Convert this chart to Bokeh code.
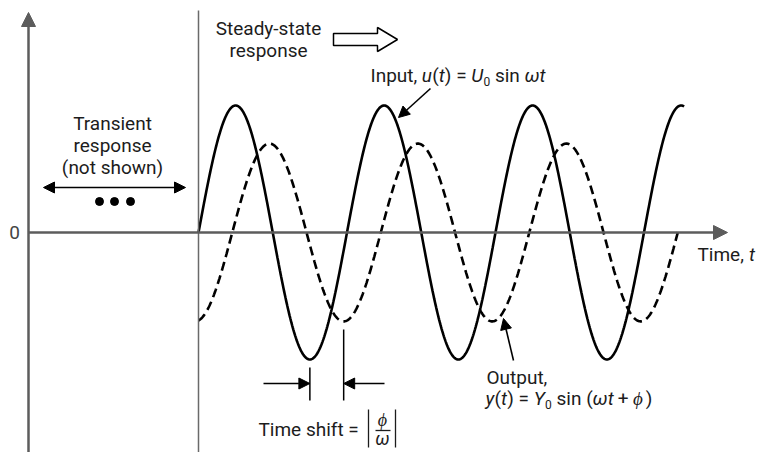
import numpy as np
from bokeh.plotting import figure
from bokeh.models import Range1d, Label, Arrow, NormalHead, ColumnDataSource
from bokeh.embed import file_html
from bokeh.resources import INLINE

# ---- data (signal parameters) ----
U0 = 1.0          # input amplitude
Y0 = 0.70         # output amplitude
OMEGA = 1.0       # angular frequency (rad per time unit)
PHI = -1.43       # phase of output (rad)
IN_CYCLES = 3.27  # number of input cycles drawn
OUT_CYCLES = 3.23 # number of output cycles drawn

# ---- layout mapping (reference pixel -> data) ----
T0_PX, ZERO_PX = 198.0, 232.0
PX_PER_RAD = 148.5 / (2 * np.pi)
PX_PER_UNIT = 127.0
W, H = 758, 452


def X(px):
    return (px - T0_PX) / PX_PER_RAD


def Y(py):
    return (ZERO_PX - py) / PX_PER_UNIT


FONT = "Roboto"
FS = 19
TXT = "#1c1c1c"
AXC = "#5c5c5c"

p = figure(width=W, height=H, x_range=Range1d(X(0), X(W)),
           y_range=Range1d(Y(H), Y(0)), output_backend="svg",
           toolbar_location=None, x_axis_type=None, y_axis_type=None,
           min_border=0)
p.grid.visible = False
p.outline_line_color = None

# ---- curves ----
t_in = np.linspace(0, IN_CYCLES * 2 * np.pi / OMEGA, 800)
t_out = np.linspace(0, OUT_CYCLES * 2 * np.pi / OMEGA, 800)
src_in = ColumnDataSource(dict(t=t_in, u=U0 * np.sin(OMEGA * t_in)))
src_out = ColumnDataSource(dict(t=t_out, y=Y0 * np.sin(OMEGA * t_out + PHI)))
p.line("t", "u", source=src_in, line_color="black", line_width=2.6)
p.line("t", "y", source=src_out, line_color="black", line_width=2.6,
       line_dash="9 5")

# ---- axes ----
p.add_layout(Arrow(x_start=X(28), y_start=Y(460), x_end=X(28), y_end=Y(12),
                   line_color=AXC, line_width=2.5,
                   end=NormalHead(size=14, fill_color=AXC, line_color=AXC)))
p.add_layout(Arrow(x_start=X(28), y_start=0, x_end=X(727), y_end=0,
                   line_color=AXC, line_width=2.5,
                   end=NormalHead(size=14, fill_color=AXC, line_color=AXC)))
p.segment(x0=[0], y0=[Y(10)], x1=[0], y1=[Y(460)], line_color="#6a6a6a",
          line_width=1.5)


def lab(px, py, s, italic=False, size=FS, align="left", color=TXT):
    p.add_layout(Label(x=X(px), y=Y(py), text=s, text_font=FONT,
                       text_font_size=f"{size}px", text_color=color,
                       text_align=align, text_baseline="middle",
                       text_font_style="italic" if italic else "normal"))


# approximate Roboto advance widths (em)
WID = {" ": 0.248, "I": 0.275, "n": 0.548, "p": 0.558, "u": 0.547, "t": 0.327,
       ",": 0.196, "(": 0.341, ")": 0.348, "=": 0.55, "U": 0.636, "s": 0.515,
       "i": 0.242, "ω": 0.76, "y": 0.472, "Y": 0.601, "+": 0.554, "ϕ": 0.66,
       "0": 0.562, "O": 0.673, "T": 0.61, "m": 0.88, "e": 0.53}


def width(s, size):
    return sum(WID.get(c, 0.55) for c in s) * size


def run(px, py, parts):
    x = px
    for s, it, sub in parts:
        size = 12 if sub else FS
        core = s.strip(" ")
        lead = len(s) - len(s.lstrip(" "))
        trail = len(s) - len(s.rstrip(" "))
        x += lead * WID[" "] * FS
        lab(x, py + (6 if sub else 0), core, italic=it, size=size)
        x += width(core, size) + trail * WID[" "] * FS


lab(14, 232, "0", align="center", color="#444444")

# transient
lab(112, 123, "Transient", align="center")
lab(112, 145, "response", align="center")
lab(112, 167, "(not shown)", align="center")
p.add_layout(Arrow(x_start=X(43), y_start=Y(187), x_end=X(185), y_end=Y(187),
                   line_color="black", line_width=1.6,
                   start=NormalHead(size=11, fill_color="black"),
                   end=NormalHead(size=11, fill_color="black")))
p.scatter(x=[X(99), X(114), X(130)], y=[Y(201)] * 3, size=8, color="black")

# steady state
lab(268, 28, "Steady-state", align="center")
lab(268, 50, "response", align="center")
hx = [333, 377, 377, 397, 377, 377, 333]
hy = [33, 33, 27, 39, 51, 45, 45]
p.patch(x=[X(v) for v in hx], y=[Y(v) for v in hy], fill_color="white",
        line_color="black", line_width=1.5)

# input label
run(370, 75, [("Input, ", False, False), ("u", True, False), ("(", False, False),
              ("t", True, False), (") = ", False, False), ("U", True, False),
              ("0", False, True), (" sin ", False, False), ("ωt", True, False)])
p.add_layout(Arrow(x_start=X(430), y_start=Y(88), x_end=X(398), y_end=Y(117),
                   line_color="black", line_width=1.6,
                   end=NormalHead(size=11, fill_color="black")))

# time axis label
run(697, 254, [("Time, ", False, False), ("t", True, False)])

# output label
lab(486, 377, "Output,")
run(485, 398, [("y", True, False), ("(", False, False), ("t", True, False),
               (") = ", False, False), ("Y", True, False), ("0", False, True),
               (" sin (", False, False), ("ωt", True, False),
               (" + ", False, False), ("ϕ", True, False), (")", False, False)])
p.add_layout(Arrow(x_start=X(513), y_start=Y(360), x_end=X(503), y_end=Y(318),
                   line_color="black", line_width=1.6,
                   end=NormalHead(size=11, fill_color="black")))

# time shift markers (from data troughs)
t_trough_in = 1.5 * np.pi / OMEGA
t_trough_out = (1.5 * np.pi - PHI) / OMEGA
p.segment(x0=[t_trough_in, t_trough_out], y0=[Y(367), Y(329)],
          x1=[t_trough_in, t_trough_out], y1=[Y(400), Y(400)],
          line_color="black", line_width=1.5)
p.add_layout(Arrow(x_start=X(263), y_start=Y(383), x_end=t_trough_in, y_end=Y(383),
                   line_color="black", line_width=1.6,
                   end=NormalHead(size=11, fill_color="black")))
p.add_layout(Arrow(x_start=X(384), y_start=Y(383), x_end=t_trough_out, y_end=Y(383),
                   line_color="black", line_width=1.6,
                   end=NormalHead(size=11, fill_color="black")))
lab(258, 429, "Time shift =")
p.segment(x0=[X(368), X(395), X(375)], y0=[Y(409), Y(409), Y(430)],
          x1=[X(368), X(395), X(390)], y1=[Y(447), Y(447), Y(430)],
          line_color=TXT, line_width=1.3)
lab(382, 419, "ϕ", italic=True, size=18, align="center")
lab(382, 438, "ω", italic=True, size=18, align="center")

open("out.html", "w").write(file_html(p, INLINE))
